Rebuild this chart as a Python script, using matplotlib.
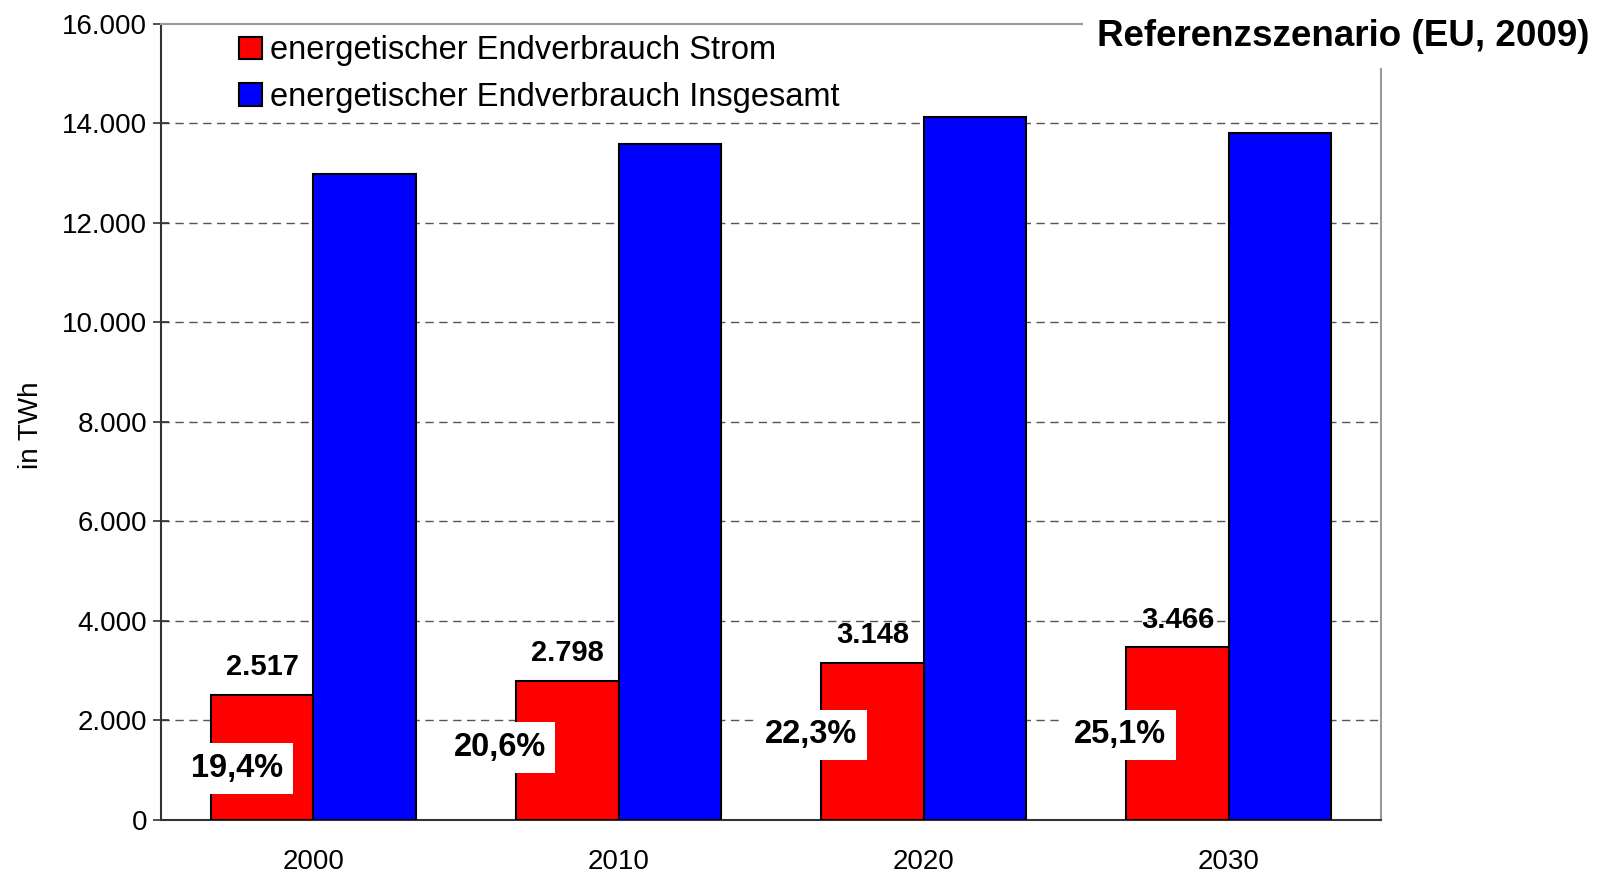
import matplotlib
matplotlib.use("Agg")
import matplotlib.pyplot as plt
import numpy as np

plt.rcParams['font.family'] = ['Liberation Sans', 'DejaVu Sans']

years = ["2000", "2010", "2020", "2030"]
strom = [2517, 2798, 3148, 3466]
insgesamt = [12970, 13580, 14120, 13810]
strom_labels = ["2.517", "2.798", "3.148", "3.466"]
anteil_labels = ["19,4%", "20,6%", "22,3%", "25,1%"]
yticks = [0, 2000, 4000, 6000, 8000, 10000, 12000, 14000, 16000]
ytick_labels = ["0", "2.000", "4.000", "6.000", "8.000", "10.000", "12.000", "14.000", "16.000"]

# label placement (positions only)
pct_dx = [-0.25, -0.39, -0.37, -0.355]
pct_y = [1030, 1460, 1710, 1710]

fig = plt.figure(figsize=(16.06, 8.72), dpi=100)
ax = fig.add_axes([0.1002, 0.0596, 0.7598, 0.9134])

x = np.arange(len(years)) + 0.5
w = 0.335
ax.bar(x - w / 2, strom, width=w, color="#FF0000", edgecolor="black", linewidth=1.5,
       label="energetischer Endverbrauch Strom", zorder=3)
ax.bar(x + w / 2, insgesamt, width=w, color="#0000FF", edgecolor="black", linewidth=1.5,
       label="energetischer Endverbrauch Insgesamt", zorder=3)

ax.set_xlim(0, 4)
ax.set_ylim(0, 16000)
ax.set_yticks(yticks)
ax.set_yticklabels(ytick_labels, fontsize=20)
ax.set_xticks(x)
ax.set_xticklabels(years, fontsize=20)
ax.tick_params(axis="x", length=0, pad=21)
ax.tick_params(axis="y", length=12, width=1.2, direction="inout", pad=4, color="#333333")

for yv in yticks[1:-1]:
    ax.axhline(yv, color="#555555", linestyle=(0, (6, 4)), linewidth=1.0, zorder=1)

for s in ["left", "bottom"]:
    ax.spines[s].set_color("#333333")
    ax.spines[s].set_linewidth(1.5)
for s in ["top", "right"]:
    ax.spines[s].set_color("#999999")
    ax.spines[s].set_linewidth(1.5)

ax.set_ylabel("in TWh", fontsize=20)
ax.yaxis.set_label_coords(-0.096, 0.496)

for i in range(len(years)):
    ax.text(x[i] - w / 2, strom[i] + 560, strom_labels[i], ha="center", va="center",
            fontsize=21, fontweight="bold", zorder=5)
    ax.text(x[i] + pct_dx[i], pct_y[i], anteil_labels[i], ha="center", va="center",
            fontsize=23.5, fontweight="bold", zorder=6,
            bbox=dict(facecolor="white", edgecolor="none", pad=7))

leg = ax.legend(loc="upper left", bbox_to_anchor=(0.064, 0.985), frameon=False,
                fontsize=23.5, handlelength=0.69, handleheight=0.69, handletextpad=0.25,
                labelspacing=0.47, borderaxespad=0, borderpad=0)

fig.text(0.990, 0.958, "Referenzszenario (EU, 2009)", ha="right", va="center",
         fontsize=26.5, fontweight="bold",
         bbox=dict(facecolor="white", edgecolor="none", pad=10), zorder=10)

fig.savefig("out.png", dpi=100)
